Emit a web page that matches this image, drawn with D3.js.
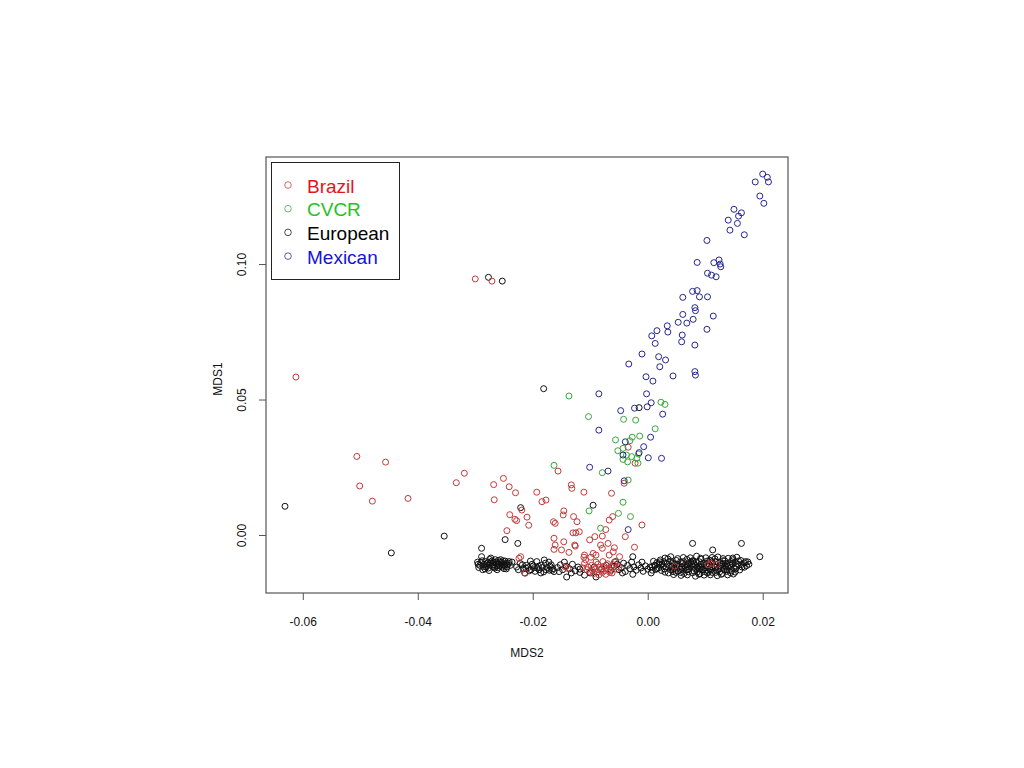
<!DOCTYPE html>
<html>
<head>
<meta charset="utf-8">
<script src="https://cdn.jsdelivr.net/npm/d3@7"></script>
<style>
  html, body { margin: 0; padding: 0; background: #fff; }
  svg { display: block; }
  text { font-family: "Liberation Sans", Arial, sans-serif; }
</style>
</head>
<body>
<svg id="chart" width="1024" height="768"></svg>
<script>
// ---------------- DATA ----------------
const groups = ["Brazil", "CVCR", "European", "Mexican"];

const xTicks = [-0.06, -0.04, -0.02, 0.00, 0.02];
const xTickLabels = ["-0.06", "-0.04", "-0.02", "0.00", "0.02"];
const yTicks = [0.00, 0.05, 0.10];
const yTickLabels = ["0.00", "0.05", "0.10"];

// [MDS2, MDS1]
const mexican = [
  [0.0200,0.1332],[0.0208,0.1320],[0.0187,0.1303],[0.0210,0.1303],[0.0195,0.1251],[0.0202,0.1224],
  [0.0150,0.1202],[0.0163,0.1189],[0.0158,0.1177],[0.0140,0.1162],[0.0156,0.1150],[0.0143,0.1125],
  [0.0168,0.1108],[0.0103,0.1087],[0.0086,0.1006],[0.0115,0.1005],[0.0124,0.1015],[0.0126,0.1000],
  [0.0127,0.0990],[0.0104,0.0966],[0.0111,0.0959],[0.0119,0.0953],[0.0078,0.0899],[0.0086,0.0902],
  [0.0090,0.0879],[0.0104,0.0879],[0.0061,0.0877],[0.0082,0.0839],[0.0083,0.0828],[0.0061,0.0814],
  [0.0114,0.0808],[0.0053,0.0785],[0.0068,0.0782],[0.0079,0.0796],[0.0034,0.0772],[0.0035,0.0749],
  [0.0016,0.0754],[0.0007,0.0735],[0.0060,0.0738],[0.0103,0.0759],[0.0059,0.0713],[0.0013,0.0707],
  [0.0082,0.0701],[-0.0010,0.0668],[0.0019,0.0658],[0.0031,0.0646],[0.0021,0.0621],[0.0082,0.0603],
  [0.0083,0.0590],[0.0044,0.0587],[-0.0003,0.0584],[0.0009,0.0568],[-0.0033,0.0631],[-0.0002,0.0521],
  [-0.0085,0.0521],[-0.0085,0.0387],[-0.0047,0.0459],[-0.0023,0.0468],[-0.0001,0.0473],[0.0006,0.0488],
  [0.0026,0.0446],[0.0005,0.0361],[-0.0039,0.0344],[-0.0007,0.0326],[-0.0015,0.0304],[-0.0043,0.0295],
  [0.0001,0.0285],[0.0024,0.0283],[-0.0101,0.0250],[-0.0069,0.0236],[-0.0041,0.0200],[-0.0034,0.0020]
];

const cvcr = [
  [-0.0137,0.0513],[-0.0103,0.0437],[-0.0042,0.0427],[-0.0021,0.0424],[0.0023,0.0490],[0.0030,0.0482],
  [0.0013,0.0392],[-0.0056,0.0351],[-0.0014,0.0365],[-0.0027,0.0361],[-0.0031,0.0348],[-0.0052,0.0311],
  [-0.0043,0.0320],[-0.0037,0.0295],[-0.0028,0.0289],[-0.0043,0.0279],[-0.0035,0.0270],[-0.0016,0.0299],
  [-0.0019,0.0283],[-0.0017,0.0265],[-0.0163,0.0257],[-0.0079,0.0230],[-0.0034,0.0203],[-0.0102,0.0089],
  [-0.0043,0.0121],[-0.0051,0.0080],[-0.0030,0.0068],[-0.0082,0.0025]
];

const brazil = [
  [-0.0300,0.0945],[-0.0271,0.0937],[-0.0612,0.0583],[-0.0506,0.0290],[-0.0456,0.0269],[-0.0501,0.0181],
  [-0.0479,0.0125],[-0.0417,0.0135],[-0.0333,0.0193],[-0.0319,0.0228],[-0.0268,0.0186],[-0.0251,0.0209],
  [-0.0241,0.0178],[-0.0230,0.0156],[-0.0267,0.0130],[-0.0193,0.0158],[-0.0240,0.0075],[-0.0231,0.0058],
  [-0.0228,0.0053],[-0.0219,0.0092],[-0.0210,0.0066],[-0.0207,0.0036],[-0.0245,0.0016],[-0.0221,-0.0080],
  [-0.0224,-0.0086],[-0.0213,-0.0141],[-0.0184,0.0123],[-0.0177,0.0129],[-0.0133,0.0185],[-0.0132,0.0172],
  [-0.0111,0.0158],[-0.0063,0.0154],[-0.0061,0.0068],[-0.0067,0.0055],[-0.0010,0.0037],[-0.0039,-0.0006],
  [-0.0073,0.0020],[-0.0079,-0.0004],[-0.0092,-0.0006],[-0.0101,-0.0018],[-0.0023,-0.0045],[-0.0058,-0.0047],
  [-0.0082,-0.0037],[-0.0079,-0.0049],[-0.0067,-0.0074],[-0.0090,-0.0074],[-0.0099,-0.0082],[-0.0111,-0.0082],
  [-0.0108,-0.0092],[-0.0164,0.0049],[-0.0161,0.0043],[-0.0147,0.0074],[-0.0146,0.0089],[-0.0129,0.0068],
  [-0.0123,0.0049],[-0.0130,0.0008],[-0.0125,0.0008],[-0.0119,0.0012],[-0.0163,-0.0012],[-0.0161,-0.0037],
  [-0.0146,-0.0025],[-0.0163,-0.0053],[-0.0150,-0.0055],[-0.0137,-0.0064],[-0.0126,-0.0041],[-0.0156,0.0236],
  [-0.0041,0.0191],[-0.0034,0.0324],[-0.0022,0.0265],[-0.0110,-0.0074],[-0.0127,-0.0037],[-0.0095,-0.0068],
  [-0.0069,-0.0031],[-0.0060,-0.0062],[-0.0049,-0.0080],
  [-0.0110,-0.0105],[-0.0104,-0.0118],[-0.0098,-0.0112],[-0.0092,-0.0125],[-0.0087,-0.0108],[-0.0082,-0.0130],
  [-0.0076,-0.0115],[-0.0071,-0.0122],[-0.0066,-0.0138],[-0.0060,-0.0110],[-0.0055,-0.0126],[-0.0101,-0.0135],
  [-0.0094,-0.0142],[-0.0085,-0.0147],[-0.0079,-0.0138],[-0.0073,-0.0145],[-0.0068,-0.0128],[-0.0062,-0.0140],
  [-0.0090,-0.0100],[-0.0078,-0.0098],[-0.0106,-0.0128],[-0.0096,-0.0131],[-0.0084,-0.0120],[-0.0070,-0.0106],
  [-0.0058,-0.0100],[-0.0050,-0.0118],[-0.0113,-0.0121],[-0.0088,-0.0137],[-0.0075,-0.0132],[-0.0064,-0.0117],
  [0.0047,-0.0115],[0.0105,-0.0110],[0.0110,-0.0105],[0.0120,-0.0108],[-0.0144,-0.0117],[-0.0139,-0.0123]
];

const european = [
  // outliers
  [-0.0277,0.0951],[-0.0253,0.0937],[-0.0631,0.0106],[-0.0354,-0.0004],[-0.0446,-0.0066],[-0.0248,-0.0017],
  [-0.0226,-0.0031],[-0.0289,-0.0049],[-0.0221,0.0101],[-0.0181,0.0540],[-0.0095,0.0110],[-0.0015,0.0470],
  [-0.0026,-0.0080],[0.0078,-0.0031],[0.0113,-0.0055],[0.0163,-0.0031],[0.0195,-0.0080],[-0.0141,-0.0155],
  [-0.0090,-0.0155],
  // left band cluster
  [-0.0296,-0.0100],[-0.0292,-0.0112],[-0.0288,-0.0095],[-0.0285,-0.0108],[-0.0281,-0.0118],[-0.0278,-0.0102],
  [-0.0275,-0.0090],[-0.0272,-0.0112],[-0.0269,-0.0099],[-0.0266,-0.0122],[-0.0263,-0.0106],[-0.0260,-0.0094],
  [-0.0257,-0.0115],[-0.0254,-0.0101],[-0.0251,-0.0110],[-0.0248,-0.0096],[-0.0245,-0.0118],[-0.0242,-0.0104],
  [-0.0239,-0.0112],[-0.0283,-0.0125],[-0.0276,-0.0131],[-0.0268,-0.0110],[-0.0262,-0.0128],[-0.0256,-0.0091],
  [-0.0250,-0.0124],[-0.0273,-0.0085],[-0.0289,-0.0080],[-0.0264,-0.0100],[-0.0259,-0.0108],[-0.0247,-0.0105],
  [-0.0280,-0.0106],[-0.0270,-0.0116],[-0.0294,-0.0120],[-0.0236,-0.0100],[-0.0253,-0.0118],
  [-0.0295,-0.0108],[-0.0290,-0.0102],[-0.0286,-0.0116],[-0.0282,-0.0098],[-0.0279,-0.0112],[-0.0274,-0.0104],
  [-0.0271,-0.0096],[-0.0267,-0.0118],[-0.0265,-0.0091],[-0.0261,-0.0113],[-0.0258,-0.0100],[-0.0255,-0.0107],
  [-0.0252,-0.0095],[-0.0249,-0.0113],[-0.0244,-0.0110],[-0.0241,-0.0098],[-0.0277,-0.0122],[-0.0287,-0.0128],
  [-0.0260,-0.0120],[-0.0246,-0.0125],
  // second band cluster
  [-0.0228,-0.0118],[-0.0222,-0.0105],[-0.0216,-0.0125],[-0.0211,-0.0112],[-0.0206,-0.0132],[-0.0201,-0.0108],
  [-0.0197,-0.0120],[-0.0193,-0.0098],[-0.0189,-0.0128],[-0.0185,-0.0112],[-0.0181,-0.0136],[-0.0178,-0.0104],
  [-0.0175,-0.0120],[-0.0171,-0.0130],[-0.0168,-0.0110],[-0.0165,-0.0124],[-0.0186,-0.0140],[-0.0196,-0.0134],
  [-0.0204,-0.0096],[-0.0214,-0.0140],[-0.0180,-0.0092],[-0.0172,-0.0100],[-0.0163,-0.0135],[-0.0190,-0.0115],
  [-0.0208,-0.0120],
  [-0.0225,-0.0128],[-0.0218,-0.0110],[-0.0212,-0.0122],[-0.0203,-0.0128],[-0.0199,-0.0114],[-0.0192,-0.0122],
  [-0.0183,-0.0120],[-0.0177,-0.0128],[-0.0170,-0.0115],[-0.0166,-0.0130],
  // third band cluster
  [-0.0157,-0.0120],[-0.0152,-0.0110],[-0.0148,-0.0128],[-0.0142,-0.0115],[-0.0136,-0.0125],[-0.0131,-0.0108],
  [-0.0126,-0.0132],[-0.0121,-0.0118],[-0.0154,-0.0135],[-0.0133,-0.0140],[-0.0118,-0.0126],[-0.0145,-0.0100],
  // middle band
  [-0.0100,-0.0140],[-0.0093,-0.0118],[-0.0080,-0.0125],[-0.0072,-0.0112],[-0.0064,-0.0130],[-0.0058,-0.0115],
  [-0.0053,-0.0108],[-0.0050,-0.0128],[-0.0046,-0.0120],[-0.0042,-0.0104],[-0.0039,-0.0135],[-0.0035,-0.0112],
  [-0.0031,-0.0124],[-0.0028,-0.0100],[-0.0024,-0.0118],[-0.0020,-0.0130],[-0.0016,-0.0110],[-0.0012,-0.0122],
  [-0.0008,-0.0134],[-0.0004,-0.0114],[0.0000,-0.0126],[0.0004,-0.0118],[0.0008,-0.0130],[0.0012,-0.0112],
  [0.0016,-0.0124],[-0.0044,-0.0140],[-0.0026,-0.0145],[-0.0056,-0.0098],[-0.0010,-0.0100],[0.0006,-0.0140],
  [-0.0110,-0.0148],[-0.0118,-0.0138],
  // right dense cluster
  [0.0040,-0.0080],[0.0062,-0.0083],[0.0085,-0.0078],[0.0101,-0.0084],[0.0122,-0.0081],[0.0140,-0.0086],[0.0155,-0.0082],
  [0.0022,-0.0092],[0.0035,-0.0088],[0.0050,-0.0094],[0.0068,-0.0090],[0.0079,-0.0096],[0.0093,-0.0089],[0.0108,-0.0093],
  [0.0117,-0.0088],[0.0131,-0.0095],[0.0148,-0.0091],[0.0162,-0.0094],
  [0.0016,-0.0102],[0.0028,-0.0098],[0.0044,-0.0104],[0.0057,-0.0099],[0.0071,-0.0103],[0.0084,-0.0100],[0.0097,-0.0105],
  [0.0112,-0.0098],[0.0126,-0.0102],[0.0138,-0.0106],[0.0152,-0.0100],[0.0168,-0.0103],
  [0.0013,-0.0112],[0.0025,-0.0108],[0.0038,-0.0114],[0.0051,-0.0109],[0.0064,-0.0113],[0.0076,-0.0108],[0.0089,-0.0115],
  [0.0102,-0.0110],[0.0115,-0.0114],[0.0129,-0.0109],[0.0143,-0.0112],[0.0157,-0.0108],[0.0172,-0.0113],
  [0.0019,-0.0121],[0.0032,-0.0118],[0.0046,-0.0123],[0.0059,-0.0119],[0.0072,-0.0124],[0.0086,-0.0120],[0.0099,-0.0122],
  [0.0111,-0.0118],[0.0124,-0.0123],[0.0136,-0.0119],[0.0150,-0.0122],[0.0164,-0.0118],
  [0.0024,-0.0131],[0.0040,-0.0128],[0.0053,-0.0133],[0.0067,-0.0129],[0.0080,-0.0132],[0.0094,-0.0128],[0.0106,-0.0134],
  [0.0119,-0.0130],[0.0133,-0.0127],[0.0146,-0.0132],[0.0160,-0.0129],
  [0.0036,-0.0140],[0.0049,-0.0138],[0.0063,-0.0142],[0.0078,-0.0139],[0.0091,-0.0143],[0.0104,-0.0140],[0.0118,-0.0138],
  [0.0130,-0.0142],[0.0144,-0.0139],
  [0.0058,-0.0149],[0.0083,-0.0152],[0.0098,-0.0148],[0.0121,-0.0150],[0.0139,-0.0147],
  [0.0070,-0.0116],[0.0082,-0.0110],[0.0095,-0.0117],[0.0108,-0.0125],[0.0090,-0.0126],[0.0075,-0.0100],
  [0.0060,-0.0126],[0.0113,-0.0104],[0.0048,-0.0116],[0.0135,-0.0115],[0.0170,-0.0098],[0.0176,-0.0108],
  [0.0030,-0.0085],[0.0052,-0.0087],[0.0074,-0.0084],[0.0092,-0.0086],[0.0112,-0.0083],[0.0131,-0.0087],[0.0148,-0.0085],
  [0.0010,-0.0097],[0.0021,-0.0099],[0.0040,-0.0096],[0.0062,-0.0098],[0.0078,-0.0095],[0.0090,-0.0099],[0.0104,-0.0096],
  [0.0119,-0.0098],[0.0134,-0.0095],[0.0145,-0.0098],[0.0158,-0.0096],[0.0174,-0.0099],
  [0.0020,-0.0107],[0.0033,-0.0105],[0.0046,-0.0108],[0.0060,-0.0106],[0.0069,-0.0109],[0.0080,-0.0105],[0.0093,-0.0108],
  [0.0106,-0.0106],[0.0120,-0.0109],[0.0132,-0.0105],[0.0147,-0.0107],[0.0163,-0.0109],
  [0.0008,-0.0117],[0.0027,-0.0115],[0.0042,-0.0118],[0.0055,-0.0116],[0.0066,-0.0119],[0.0079,-0.0115],[0.0092,-0.0118],
  [0.0105,-0.0116],[0.0117,-0.0119],[0.0128,-0.0116],[0.0140,-0.0118],[0.0154,-0.0115],[0.0168,-0.0119],
  [0.0014,-0.0127],[0.0029,-0.0125],[0.0043,-0.0128],[0.0056,-0.0126],[0.0069,-0.0128],[0.0083,-0.0125],[0.0096,-0.0127],
  [0.0110,-0.0129],[0.0122,-0.0126],[0.0138,-0.0128],[0.0153,-0.0125],
  [0.0030,-0.0137],[0.0044,-0.0135],[0.0057,-0.0138],[0.0071,-0.0136],[0.0086,-0.0137],[0.0099,-0.0135],[0.0112,-0.0138],
  [0.0125,-0.0136],[0.0138,-0.0134],[0.0152,-0.0137],
  [0.0045,-0.0146],[0.0069,-0.0147],[0.0089,-0.0145],[0.0109,-0.0147],[0.0128,-0.0145],[0.0149,-0.0144]
];

// ---------------- STYLE ----------------
const pointColors = { Brazil: "#c23a3a", CVCR: "#3aa63a", European: "#111111", Mexican: "#26268e" };
const textColors  = { Brazil: "#e3141c", CVCR: "#1fc21f", European: "#000000", Mexican: "#1414d6" };
const seriesData = { Brazil: brazil, CVCR: cvcr, European: european, Mexican: mexican };
const drawOrder = ["European", "Brazil", "CVCR", "Mexican"];

const plot = { left: 266, right: 788, top: 157, bottom: 593 };

const svg = d3.select("#chart");

const x = d3.scaleLinear().domain([-0.0664, 0.0244]).range([plot.left, plot.right]);
const y = d3.scaleLinear().domain([-0.0214, 0.1395]).range([plot.bottom, plot.top]);

const axisColor = "#555";

// X axis
const xAxis = svg.append("g")
  .attr("transform", `translate(0,${plot.bottom})`)
  .call(d3.axisBottom(x).tickValues(xTicks).tickSize(7)
    .tickFormat((d, i) => xTickLabels[i]));
xAxis.select(".domain").remove();
xAxis.selectAll(".tick line").attr("stroke", axisColor);
xAxis.selectAll(".tick text")
  .attr("y", 33).attr("dy", 0)
  .attr("font-size", 12).attr("fill", "#111")
  .style("font-family", "'Liberation Sans', Arial, sans-serif");

// Y axis
const yAxis = svg.append("g")
  .attr("transform", `translate(${plot.left},0)`)
  .call(d3.axisLeft(y).tickValues(yTicks).tickSize(7)
    .tickFormat((d, i) => yTickLabels[i]));
yAxis.select(".domain").remove();
yAxis.selectAll(".tick line").attr("stroke", axisColor);
yAxis.selectAll(".tick text")
  .attr("transform", "rotate(-90)")
  .attr("x", 0).attr("y", -20).attr("dy", 0)
  .attr("text-anchor", "middle")
  .attr("font-size", 12).attr("fill", "#111")
  .style("font-family", "'Liberation Sans', Arial, sans-serif");

// Axis titles
svg.append("text")
  .attr("x", (plot.left + plot.right) / 2).attr("y", 657)
  .attr("text-anchor", "middle").attr("font-size", 12).attr("fill", "#111")
  .text("MDS2");
svg.append("text")
  .attr("transform", `translate(222,${(plot.top + plot.bottom) / 2 + 4}) rotate(-90)`)
  .attr("text-anchor", "middle").attr("font-size", 12).attr("fill", "#111")
  .text("MDS1");

// Points
const pts = svg.append("g");
drawOrder.forEach(g => {
  pts.append("g").selectAll("circle")
    .data(seriesData[g])
    .join("circle")
    .attr("cx", d => x(d[0]))
    .attr("cy", d => y(d[1]))
    .attr("r", 3)
    .attr("fill", "none")
    .attr("stroke", pointColors[g])
    .attr("stroke-width", 1);
});

// Plot box
svg.append("rect")
  .attr("x", plot.left).attr("y", plot.top)
  .attr("width", plot.right - plot.left).attr("height", plot.bottom - plot.top)
  .attr("fill", "none").attr("stroke", axisColor).attr("stroke-width", 1.2);

// Legend
const legend = svg.append("g");
legend.append("rect")
  .attr("x", 271.5).attr("y", 162.5).attr("width", 128).attr("height", 117)
  .attr("fill", "#fff").attr("stroke", "#222").attr("stroke-width", 1);
groups.forEach((g, i) => {
  const cy = 185 + i * 23.7;
  legend.append("circle")
    .attr("cx", 288).attr("cy", cy).attr("r", 3.3)
    .attr("fill", "none").attr("stroke", pointColors[g]).attr("stroke-opacity", 0.75);
  legend.append("text")
    .attr("x", 307).attr("y", cy + 7.5)
    .attr("font-size", 19).attr("fill", textColors[g])
    .text(g);
});
</script>
</body>
</html>
